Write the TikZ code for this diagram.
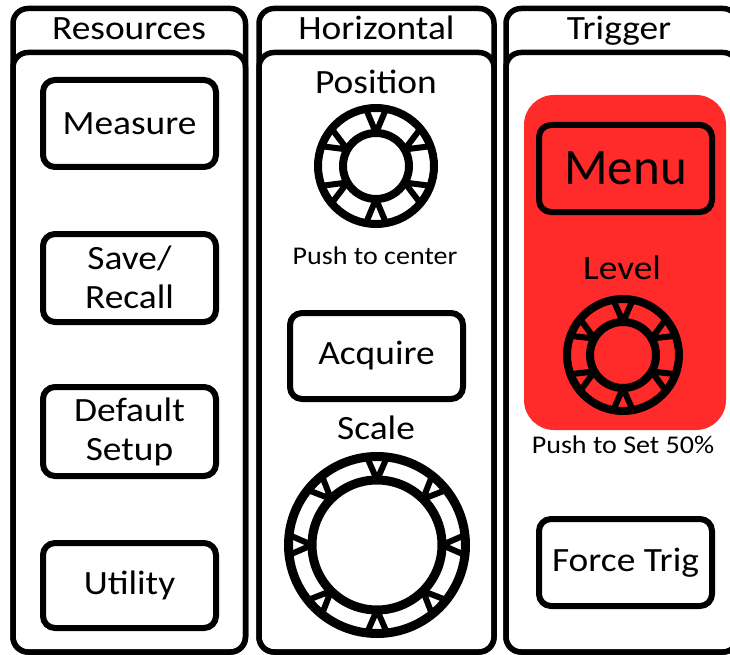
\documentclass[tikz,border=0pt]{standalone}
\usepackage{fontspec}
\setmainfont{Carlito}[FakeStretch=1.1]
\newfontfamily\plainfam{Carlito}
\newcommand\btxt{\fontsize{34}{39}\selectfont}
\newcommand\stxt{\fontsize{25.5}{28}\selectfont}
\newcommand\mtxt{\plainfam\fontsize{51}{55}\selectfont}
\definecolor{trigred}{RGB}{255,42,42}
\newcommand\knob[7]{%
  \begin{scope}[shift={#1}]
    \draw[line width=#4] (0,0) circle[radius=#2];
    \draw[line width=#4] (0,0) circle[radius=#3];
    \foreach \a in {#5} {
      \draw[line width=#7, line join=round] (\a:#3) -- (\a+#6:#2) -- (\a-#6:#2) -- cycle;
    }
  \end{scope}}
\begin{document}
\begin{tikzpicture}[x=1pt,y=-1pt,
  panel/.style={draw, line width=5.5pt, rounded corners=15pt},
  btn/.style={draw, line width=6pt, rounded corners=12pt, minimum width=173pt,
    minimum height=87pt, inner sep=0pt, align=center, font=\btxt},
  lbl/.style={inner sep=0pt, font=\btxt},
  slbl/.style={inner sep=0pt, font=\stxt}]
\useasboundingbox (0,0) rectangle (730,655);
\clip (0,0) rectangle (730,655);
% panels
\foreach \l/\r in {13/245.5, 259/494, 506/738} {
  \draw[panel] (\l,8.5) rectangle (\r,652);
  \draw[panel] (\l,52.5) rectangle (\r,652);
}
\node[lbl, anchor=base] (hres) at (129,40) {Resources};
\node[lbl, anchor=base] (hhor) at (376.5,40) {Horizontal};
\node[lbl, anchor=base] (htrg) at (619,40) {Trigger};
% resources
\node[btn] (measure) at (129.5,123.5) {Measure};
\node[btn, minimum height=88pt] (save) at (129.5,278) {\raisebox{2pt}{Save/}\\\raisebox{2pt}{Recall}};
\node[btn, minimum height=89pt] (default) at (129.5,431.5) {Default\\Setup};
\node[btn, minimum height=85pt] (utility) at (129.5,585.5) {Utility};
% horizontal
\node[lbl, anchor=base] (poslbl) at (376,94) {Position};
\knob{(376,166)}{58}{33}{8pt}{30,90,150,210,270,330}{10}{6pt}
\node[slbl, anchor=base] (push1) at (375,264) {Push to center};
\node[btn, minimum height=86pt] (acquire) at (376.5,356) {Acquire};
\node[lbl, anchor=base] (scalelbl) at (376,439) {Scale};
\knob{(377,545)}{88.5}{65}{9pt}{0,45,90,135,180,225,270,315}{6.5}{6pt}
% trigger
\fill[trigred, rounded corners=30pt] (524,95) rectangle (726,430);
\node[btn, fill=trigred, font=\mtxt] (menu) at (625.5,168.5) {Menu};
\node[lbl, anchor=base] (levellbl) at (622,279) {Level};
\knob{(623,355)}{56}{33}{8pt}{30,90,150,210,270,330}{10}{6pt}
\node[slbl, anchor=base] (push2) at (623,453) {Push to Set 50\%};
\node[btn] (force) at (625.5,562.5) {Force Trig};
\end{tikzpicture}
\end{document}
